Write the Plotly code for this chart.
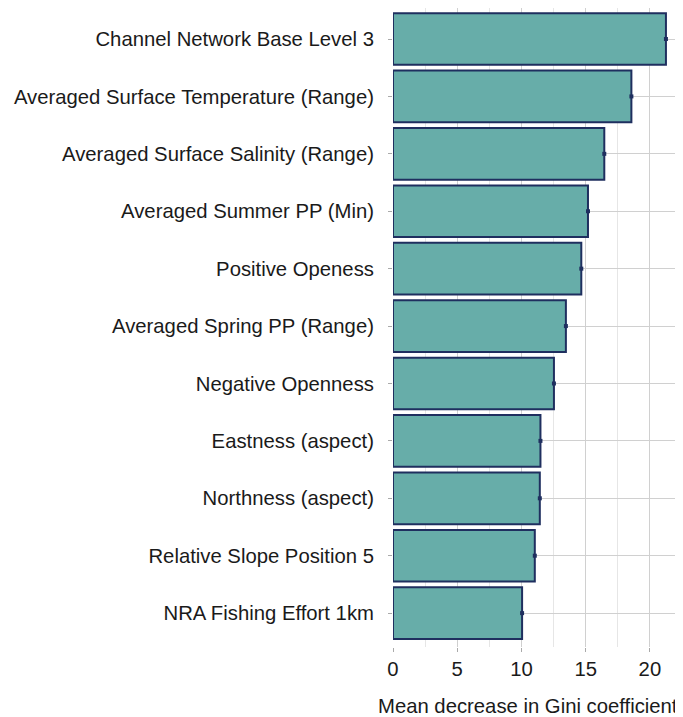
import plotly.graph_objects as go

categories = [
    "Channel Network Base Level 3",
    "Averaged Surface Temperature (Range)",
    "Averaged Surface Salinity (Range)",
    "Averaged Summer PP (Min)",
    "Positive Openess",
    "Averaged Spring PP (Range)",
    "Negative Openness",
    "Eastness (aspect)",
    "Northness (aspect)",
    "Relative Slope Position 5",
    "NRA Fishing Effort 1km",
]
values = [21.25, 18.56, 16.45, 15.18, 14.66, 13.46, 12.53, 11.48, 11.43, 11.04, 10.05]
errors = [0.08, 0.10, 0.06, 0.05, 0.05, 0.02, 0.05, 0.04, 0.05, 0.02, 0.01]
x_ticks = [0, 5, 10, 15, 20]
x_title = "Mean decrease in Gini coefficient"

cats = categories[::-1]
vals = values[::-1]
errs = errors[::-1]

fig = go.Figure()
fig.add_trace(go.Bar(
    y=cats, x=vals, orientation="h", width=0.9,
    marker=dict(color="#67ADA9", line=dict(color="#1F2F5F", width=2)),
))
fig.add_trace(go.Scatter(
    y=cats, x=vals, mode="markers",
    marker=dict(color="#1F2F5F", size=4, symbol="square"),
    error_x=dict(type="data", array=errs, color="#1F2F5F", thickness=2, width=0),
))

fig.update_layout(
    width=683, height=717,
    margin=dict(l=385, r=9, t=0, b=78, autoexpand=False),
    plot_bgcolor="white", paper_bgcolor="white",
    showlegend=False,
    font=dict(family="Liberation Sans, Arial", size=20, color="#1a1a1a"),
    xaxis=dict(
        range=[0, 22.5], tickvals=x_ticks,
        showgrid=True, gridcolor="#d0d0d0", gridwidth=1.3,
        minor=dict(tickvals=[2.5, 7.5, 12.5, 17.5, 22.5], showgrid=True, gridcolor="#e6e6e6", gridwidth=1),
        ticks="outside", ticklen=4, tickcolor="#aaaaaa",
        zeroline=False, showline=False,
        tickfont=dict(size=20.3),
    ),
    yaxis=dict(
        range=[-0.59, 10.54],
        showgrid=True, gridcolor="#d0d0d0", gridwidth=1.3,
        ticks="outside", ticklen=4, tickcolor="#aaaaaa",
        ticklabelstandoff=10,
        zeroline=False, showline=False,
        tickfont=dict(size=20.3),
    ),
    annotations=[dict(
        text=x_title, xref="paper", yref="paper",
        x=0.993, y=-0.0923, xanchor="right", yanchor="middle",
        showarrow=False, font=dict(size=20.3),
    )],
)

fig.write_html("out.html")
